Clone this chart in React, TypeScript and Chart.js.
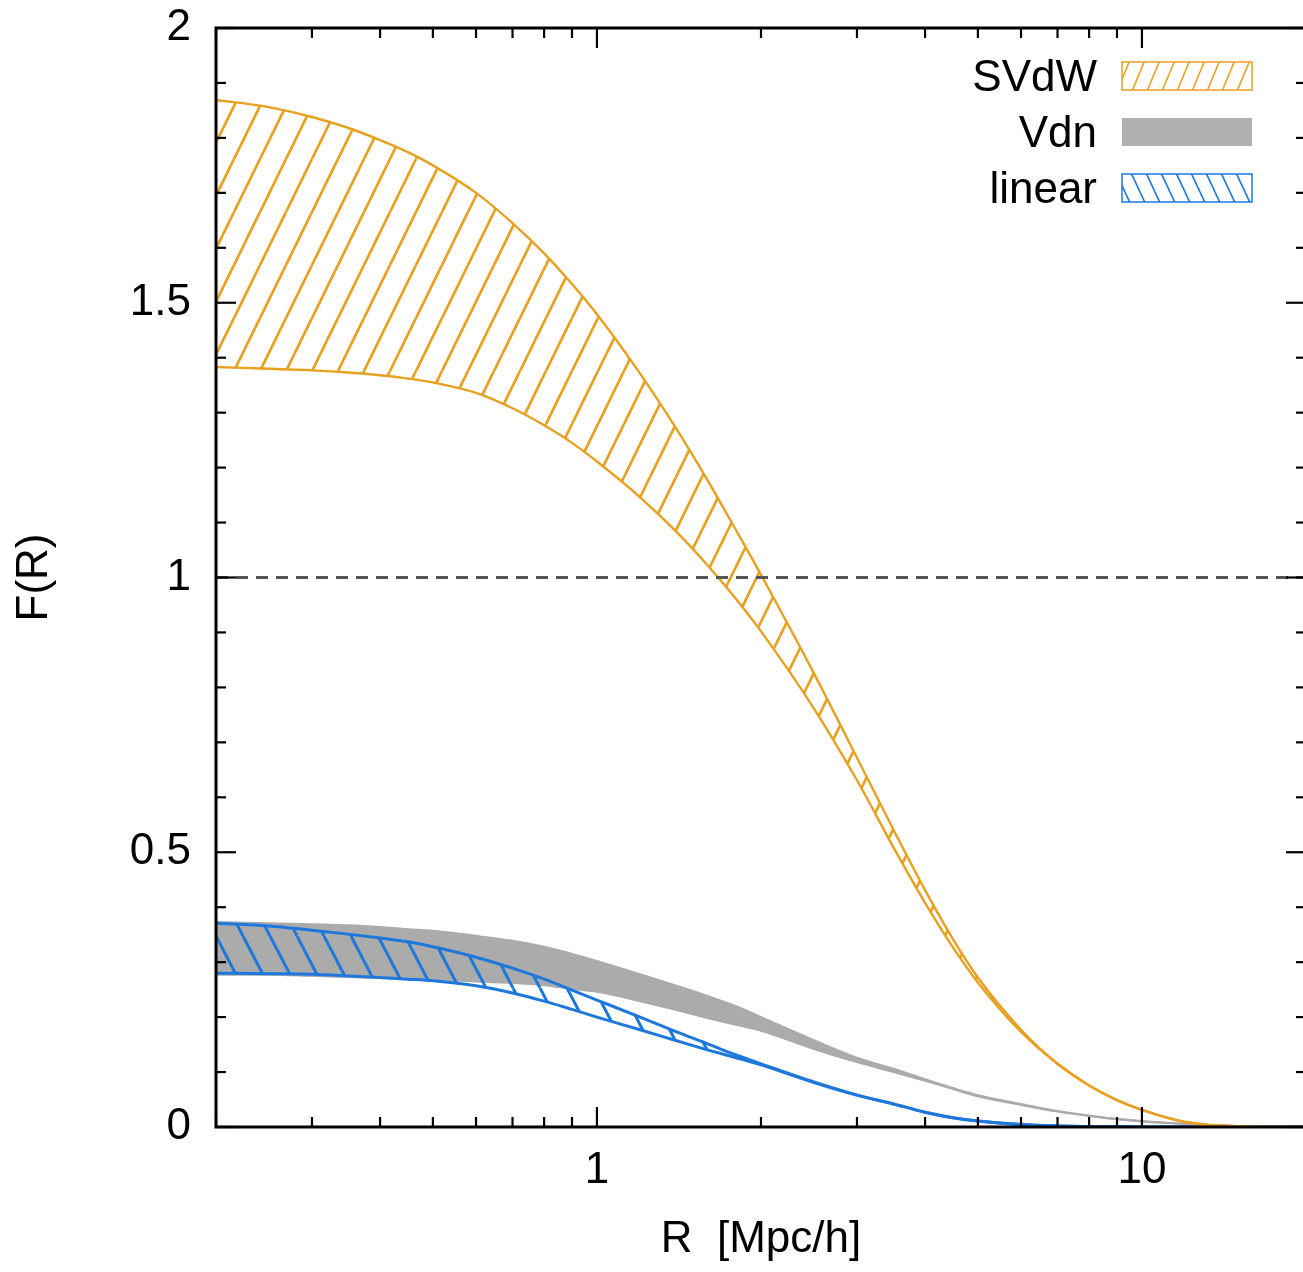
import React, { useEffect, useRef } from 'react';
import { Chart, registerables } from 'chart.js';

Chart.register(...registerables);

// ---- data ----
const R = [0.2, 0.25, 0.3, 0.35, 0.4, 0.45, 0.5, 0.6, 0.7, 0.8, 0.9, 1, 1.2, 1.4, 1.6, 1.8, 2, 2.5, 3, 3.5, 4, 4.5, 5, 6, 7, 8, 9, 10, 12, 15, 20];
const svdwUpper = [1.869, 1.856, 1.838, 1.818, 1.796, 1.774, 1.75, 1.7, 1.645, 1.59, 1.534, 1.479, 1.371, 1.27, 1.175, 1.086, 1.005, 0.826, 0.672, 0.541, 0.431, 0.342, 0.272, 0.177, 0.115, 0.0757, 0.049, 0.031, 0.009, 0.001, 0];
const svdwLower = [1.383, 1.38, 1.377, 1.373, 1.368, 1.362, 1.355, 1.336, 1.308, 1.277, 1.245, 1.211, 1.146, 1.083, 1.021, 0.961, 0.902, 0.762, 0.631, 0.509, 0.408, 0.327, 0.263, 0.173, 0.115, 0.0757, 0.049, 0.031, 0.009, 0.001, 0];
const vdnUpper = [0.373, 0.371, 0.369, 0.367, 0.364, 0.36, 0.357, 0.348, 0.339, 0.328, 0.315, 0.302, 0.278, 0.257, 0.238, 0.22, 0.2, 0.158, 0.126, 0.106, 0.087, 0.071, 0.058, 0.042, 0.029, 0.021, 0.015, 0.011, 0.0055, 0.002, 0.0005];
const vdnLower = [0.277, 0.277, 0.275, 0.273, 0.271, 0.269, 0.268, 0.265, 0.262, 0.258, 0.251, 0.246, 0.229, 0.213, 0.198, 0.186, 0.175, 0.142, 0.118, 0.1, 0.084, 0.069, 0.056, 0.04, 0.028, 0.02, 0.014, 0.01, 0.0055, 0.002, 0.0005];
const linUpper = [0.371, 0.366, 0.358, 0.351, 0.344, 0.337, 0.328, 0.309, 0.289, 0.269, 0.249, 0.231, 0.2, 0.173, 0.151, 0.131, 0.115, 0.082, 0.058, 0.042, 0.027, 0.017, 0.011, 0.0045, 0.002, 0.001, 0.0005, 0, 0, 0, 0];
const linLower = [0.28, 0.279, 0.278, 0.275, 0.272, 0.269, 0.266, 0.257, 0.244, 0.229, 0.214, 0.2, 0.177, 0.157, 0.14, 0.126, 0.113, 0.081, 0.058, 0.042, 0.027, 0.017, 0.011, 0.0045, 0.002, 0.001, 0.0005, 0, 0, 0, 0];
const refX = [0.2, 20];
const refY = [1, 1];

const legendLabels = ['SVdW', 'Vdn', 'linear'];
const xTitle = 'R  [Mpc/h]';
const yTitle = 'F(R)';
const xMajorTicks = [1, 10];
const xMinorTicks = [0.2, 0.3, 0.4, 0.5, 0.6, 0.7, 0.8, 0.9, 2, 3, 4, 5, 6, 7, 8, 9, 20];
const yMajorTicks = [0, 0.5, 1, 1.5, 2];
const yMinorTicks = [0.1, 0.2, 0.3, 0.4, 0.6, 0.7, 0.8, 0.9, 1.1, 1.2, 1.3, 1.4, 1.6, 1.7, 1.8, 1.9];

// ---- styles ----
const FONT = "'Liberation Sans', Arial, sans-serif";
const ORANGE = '#E8A020';
const BLUE = '#1E78DC';
const GRAY = '#ababab';
const FS = 44;

function makeHatch(color: string, w: number, h: number, lw: number, dir: 'fwd' | 'back') {
  const c = document.createElement('canvas');
  c.width = w;
  c.height = h;
  const g = c.getContext('2d')!;
  g.strokeStyle = color;
  g.lineWidth = lw;
  g.lineCap = 'butt';
  for (let k = -1; k <= 1; k++) {
    g.beginPath();
    if (dir === 'fwd') {
      g.moveTo(k * w, h);
      g.lineTo(k * w + w, 0);
    } else {
      g.moveTo(k * w, 0);
      g.lineTo(k * w + w, h);
    }
    g.stroke();
  }
  return g.createPattern(c, 'repeat')!;
}

const pts = (ys: number[]) => R.map((x, i) => ({ x, y: ys[i] }));

export default function App() {
  const ref = useRef<HTMLCanvasElement>(null);
  useEffect(() => {
    const canvas = ref.current!;
    const orangeHatch = makeHatch(ORANGE, 26, 53, 2.7, 'fwd');
    const blueHatch = makeHatch(BLUE, 27, 52, 3, 'back');
    const orangeLegendHatch = makeHatch(ORANGE, 15, 36, 1.6, 'fwd');
    const blueLegendHatch = makeHatch(BLUE, 15, 32, 1.6, 'back');

    const frameAndTicks = {
      id: 'frameAndTicks',
      afterDraw(chart: any) {
        const ctx = chart.ctx;
        const { left, right, top, bottom } = chart.chartArea;
        const xs = chart.scales.x;
        const ys = chart.scales.y;
        ctx.save();
        ctx.strokeStyle = '#000';
        ctx.lineWidth = 2.2;
        const tick = (x1: number, y1: number, x2: number, y2: number) => {
          ctx.beginPath();
          ctx.moveTo(x1, y1);
          ctx.lineTo(x2, y2);
          ctx.stroke();
        };
        xMinorTicks.forEach((v) => {
          const p = xs.getPixelForValue(v);
          tick(p, bottom, p, bottom - 10);
          tick(p, top, p, top + 10);
        });
        xMajorTicks.forEach((v) => {
          const p = xs.getPixelForValue(v);
          tick(p, bottom, p, bottom - 20);
          tick(p, top, p, top + 20);
        });
        yMinorTicks.forEach((v) => {
          const p = ys.getPixelForValue(v);
          tick(left, p, left + 10, p);
          tick(right, p, right - 10, p);
        });
        yMajorTicks.forEach((v) => {
          const p = ys.getPixelForValue(v);
          tick(left, p, left + 20, p);
          tick(right, p, right - 20, p);
        });
        ctx.lineWidth = 3;
        ctx.strokeRect(left, top, right - left, bottom - top);

        // legend
        const boxL = 1122;
        const boxW = 130;
        const boxH = 28;
        const centers = [76, 132, 188];
        const fills = [orangeLegendHatch, '#b0b0b0', blueLegendHatch];
        const borders = [ORANGE, null, BLUE];
        ctx.font = `${FS}px ${FONT}`;
        ctx.textAlign = 'right';
        ctx.textBaseline = 'alphabetic';
        legendLabels.forEach((lab, i) => {
          const cy = centers[i];
          ctx.fillStyle = '#000';
          ctx.fillText(lab, 1097, cy + 15);
          ctx.fillStyle = fills[i] as any;
          ctx.fillRect(boxL, cy - boxH / 2, boxW, boxH);
          if (borders[i]) {
            ctx.strokeStyle = borders[i] as string;
            ctx.lineWidth = 1.5;
            ctx.strokeRect(boxL, cy - boxH / 2, boxW, boxH);
          }
        });
        ctx.restore();
      },
    };

    const base = { pointRadius: 0, cubicInterpolationMode: 'monotone' as const };
    const chart = new Chart(canvas, {
      type: 'line',
      data: {
        datasets: [
          {
            pointRadius: 0,
            label: 'ref',
            data: refX.map((x, i) => ({ x, y: refY[i] })),
            borderColor: '#555555',
            borderWidth: 3,
            borderDash: [12, 8],
            fill: false,
          },
          { ...base, label: legendLabels[0], data: pts(svdwUpper), borderColor: ORANGE, borderWidth: 2.4, fill: '+1', backgroundColor: orangeHatch },
          { ...base, label: legendLabels[0] + ' lower', data: pts(svdwLower), borderColor: ORANGE, borderWidth: 2.4, fill: false },
          { ...base, label: legendLabels[2], data: pts(linUpper), borderColor: BLUE, borderWidth: 3, fill: '+1', backgroundColor: blueHatch },
          { ...base, label: legendLabels[2] + ' lower', data: pts(linLower), borderColor: BLUE, borderWidth: 3, fill: false },
          { ...base, label: legendLabels[1], data: pts(vdnUpper), borderColor: GRAY, borderWidth: 2, fill: '+1', backgroundColor: GRAY },
          { ...base, label: legendLabels[1] + ' lower', data: pts(vdnLower), borderColor: GRAY, borderWidth: 2, fill: false },
        ],
      },
      options: {
        animation: false,
        responsive: false,
        maintainAspectRatio: false,
        devicePixelRatio: 1,
        layout: { padding: { left: 0, top: 28, right: 4, bottom: 0 } },
        plugins: { legend: { display: false }, tooltip: { enabled: false } },
        scales: {
          x: {
            type: 'logarithmic',
            min: 0.2,
            max: 20,
            grid: { display: false, drawTicks: false },
            border: { display: false },
            afterBuildTicks: (s: any) => {
              s.ticks = xMajorTicks.map((v) => ({ value: v }));
            },
            afterFit: (s: any) => {
              s.height = 145;
              s.paddingLeft = 0;
              s.paddingRight = 0;
            },
            ticks: {
              callback: (v: any) => String(v),
              font: { family: FONT, size: FS },
              color: '#000',
              padding: 17,
              maxRotation: 0,
              autoSkip: false,
            },
            title: { display: true, text: xTitle, font: { family: FONT, size: FS }, color: '#000', padding: { top: 0, bottom: 6 } },
          },
          y: {
            type: 'linear',
            min: 0,
            max: 2,
            grid: { display: false, drawTicks: false },
            border: { display: false },
            afterBuildTicks: (s: any) => {
              s.ticks = yMajorTicks.map((v) => ({ value: v }));
            },
            afterFit: (s: any) => {
              s.width = 216;
              s.paddingTop = 0;
              s.paddingBottom = 0;
            },
            ticks: {
              callback: (v: any) => String(v),
              font: { family: FONT, size: FS },
              color: '#000',
              padding: 25,
            },
            title: { display: true, text: yTitle, font: { family: FONT, size: FS }, color: '#000', padding: { top: 8, bottom: 0 } },
          },
        },
      },
      plugins: [frameAndTicks],
    } as any);
    return () => chart.destroy();
  }, []);

  return (
    <div style={{ position: 'fixed', left: 0, top: 0, width: 1303, height: 1272, overflow: 'hidden', background: '#fff' }}>
      <canvas ref={ref} width={1310} height={1272} style={{ display: 'block', width: 1310, height: 1272 }} />
    </div>
  );
}
